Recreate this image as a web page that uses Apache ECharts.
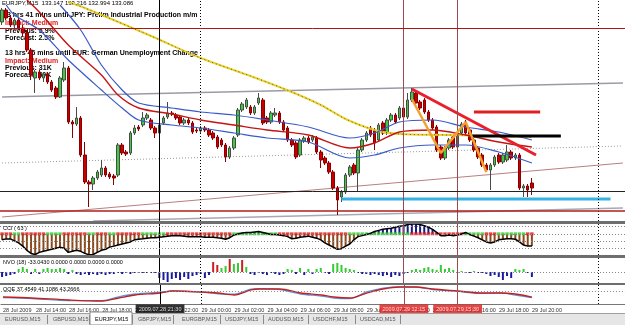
<!DOCTYPE html>
<html><head><meta charset="utf-8">
<script src="https://cdn.jsdelivr.net/npm/echarts/dist/echarts.min.js"></script>
<style>html,body{margin:0;padding:0;background:#fff}#c{width:625px;height:325px}</style>
</head><body><div id="c"></div>
<script>
// ---- price candles (EURJPY M15) ----
const opens=[134.75,134.87,134.79,134.72,134.77,134.69,134.64,134.47,134.19,134.25,
134.19,134.23,134.15,134.09,134.00,134.17,134.29,133.75,133.73,133.79,
133.42,133.15,133.13,133.19,133.22,133.29,133.23,133.21,133.22,133.52,
133.45,133.44,133.64,133.70,133.72,133.79,133.77,133.69,133.64,133.74,
133.80,133.84,133.82,133.80,133.74,133.77,133.74,133.67,133.66,133.69,
133.67,133.64,133.60,133.57,133.52,133.40,133.49,133.62,133.87,133.90,
133.90,133.84,133.94,133.97,133.79,133.75,133.82,133.84,133.75,133.69,
133.57,133.54,133.42,133.56,133.59,133.57,133.59,133.45,133.39,133.34,
133.25,133.09,133.00,133.05,133.22,133.32,133.24,133.47,133.57,133.69,
133.67,133.57,133.74,133.64,133.77,133.82,133.79,133.89,133.80,133.97,
134.04,133.95,133.97,133.85,133.77,133.70,133.50,133.39,133.49,133.60,
133.50,133.64,133.75,133.67,133.57,133.49,133.42,133.32,133.27,133.32,
133.42,133.35,133.37,133.45,133.39,133.42,133.09,133.11,133.14];
const closes=[134.87,134.79,134.72,134.77,134.69,134.64,134.47,134.22,134.25,134.19,
134.23,134.15,134.07,134.00,134.19,134.29,133.75,133.73,133.79,133.42,
133.15,133.13,133.19,133.25,133.29,133.22,133.20,133.19,133.52,133.44,
133.43,133.64,133.69,133.68,133.79,133.82,133.69,133.64,133.72,133.79,
133.84,133.83,133.79,133.74,133.77,133.74,133.65,133.66,133.69,133.67,
133.62,133.59,133.50,133.52,133.40,133.49,133.59,133.87,133.93,133.97,
133.84,133.90,133.99,133.74,133.75,133.84,133.84,133.75,133.67,133.57,
133.52,133.40,133.57,133.59,133.55,133.60,133.45,133.37,133.34,133.25,
133.09,132.97,133.05,133.22,133.30,133.24,133.47,133.57,133.64,133.62,
133.54,133.72,133.64,133.77,133.82,133.75,133.89,133.80,133.97,134.05,
133.94,133.89,133.85,133.77,133.69,133.47,133.39,133.49,133.57,133.50,
133.64,133.73,133.64,133.57,133.47,133.40,133.32,133.27,133.32,133.40,
133.35,133.42,133.45,133.39,133.42,133.09,133.11,133.07,133.09];
const lows=[134.72,134.77,134.70,134.69,134.67,134.61,134.45,134.17,134.04,134.17,
134.15,134.13,134.05,133.98,133.99,134.15,133.73,133.59,133.71,133.40,
133.13,132.90,133.07,133.17,133.20,133.20,133.18,133.12,133.20,133.42,
133.41,133.42,133.62,133.66,133.70,133.77,133.67,133.59,133.62,133.72,
133.78,133.81,133.77,133.72,133.72,133.72,133.63,133.64,133.64,133.65,
133.60,133.57,133.48,133.50,133.35,133.38,133.47,133.60,133.85,133.88,
133.82,133.82,133.92,133.72,133.73,133.73,133.80,133.73,133.65,133.55,
133.50,133.38,133.40,133.54,133.53,133.55,133.43,133.29,133.32,133.23,
133.07,132.82,132.95,133.03,133.20,133.22,133.05,133.45,133.55,133.60,
133.47,133.55,133.62,133.62,133.75,133.73,133.77,133.78,133.78,133.95,
133.92,133.87,133.83,133.75,133.67,133.45,133.37,133.37,133.47,133.48,
133.48,133.62,133.62,133.55,133.45,133.38,133.30,133.25,133.07,133.30,
133.33,133.33,133.35,133.37,133.37,133.07,133.00,133.00,133.02];
const highs=[134.89,134.89,134.82,134.79,134.79,134.72,134.67,134.49,134.27,134.27,
134.25,134.25,134.17,134.11,134.21,134.35,134.31,133.77,133.90,133.81,
133.55,133.17,133.21,133.27,133.37,133.31,133.25,133.23,133.54,133.54,
133.47,133.66,133.72,133.72,133.85,133.84,133.79,133.71,133.74,133.81,
133.95,133.86,133.84,133.82,133.79,133.79,133.76,133.69,133.71,133.71,
133.69,133.66,133.62,133.59,133.54,133.51,133.61,133.89,133.95,133.99,
133.92,133.92,134.04,133.99,133.81,133.86,133.89,133.86,133.77,133.71,
133.59,133.56,133.59,133.61,133.61,133.62,133.61,133.47,133.41,133.36,
133.27,133.11,133.07,133.24,133.32,133.34,133.49,133.59,133.66,133.71,
133.69,133.74,133.76,133.79,133.84,133.84,133.91,133.91,134.04,134.09,
134.06,133.97,133.99,133.87,133.79,133.72,133.52,133.51,133.59,133.62,
133.66,133.75,133.77,133.69,133.59,133.51,133.44,133.34,133.34,133.42,
133.44,133.44,133.52,133.47,133.44,133.44,133.13,133.13,133.19];

// ---- moving averages / envelope, sampled [barIndex, price] ----
const maYellow=[[16,134.95],[20,134.89],[36,134.61],[48,134.39],[60,134.21],[70,134.05],[77,133.92],[83,133.78],[90,133.67],[96,133.63],[108,133.62],[128,133.60]];
const maRed=[[6,134.97],[9,134.85],[16,134.52],[24,134.22],[28,134.02],[33,133.89],[41,133.83],[48,133.77],[56,133.72],[64,133.67],[74,133.62],[84,133.49],[90,133.54],[96,133.65],[104,133.67],[112,133.62],[120,133.55],[128,133.50]];
const bandUpper=[[14,134.92],[19,134.67],[24,134.32],[29,134.07],[33,133.94],[41,133.89],[48,133.85],[56,133.82],[64,133.77],[74,133.70],[84,133.59],[90,133.64],[96,133.75],[104,133.77],[112,133.70],[120,133.65],[128,133.57]];
const bandLower=[[1,134.92],[3,134.82],[9,134.67],[16,134.37],[24,134.07],[29,133.89],[33,133.77],[41,133.72],[48,133.69],[56,133.64],[64,133.59],[74,133.55],[84,133.39],[90,133.42],[96,133.49],[104,133.52],[112,133.52],[120,133.45],[128,133.34]];

// ---- drawn objects ----
const levelRedTop=134.69, levelBlack=133.06, levelRedLow=132.86;
const grayLine=[[0,134.00],[150,134.14]];
const grayDotted=[[0,133.34],[150,133.51]];
const pinkLine=[[0,132.80],[150,133.34]];
const grayLow=[[22,132.76],[150,132.89]];
const trendRed=[[99,134.08],[129,133.42]];
const zigzag=[[99,133.98],[106,133.44],[112,133.75],[117,133.25]];
const redShort=[[114,133.85],[130,133.85]];
const blackThick=[[113,133.61],[135,133.61]];
const cyanLine=[[82,132.98],[147,132.98]];
const vBlack=38, vRed=[97,110], daySep=[48,144];
const vLabels=['2009.07.28 21:30','2009.07.29 12:15','2009.07.29 15:30'];

// ---- indicators ----
const cci=[-83,-70,-70,-97,-126,-170,-228,-271,-286,-257,
-242,-228,-213,-199,-184,-199,-257,-242,-228,-242,
-271,-290,-286,-257,-228,-213,-184,-170,-155,-141,
-126,-112,-83,-75,-68,-60,-54,-54,-46,-39,
-32,-25,-25,-25,-32,-39,-39,-39,-39,-46,
-46,-46,-54,-60,-75,-54,-17,-3,12,19,
19,26,33,19,4,-10,-10,-17,-25,-39,
-68,-60,-46,-39,-32,-46,-60,-83,-126,-155,
-184,-213,-206,-170,-141,-83,-39,-25,-10,4,
33,48,62,70,77,91,106,113,128,135,
135,128,113,91,62,19,-25,-25,-17,-25,
-17,-3,19,-10,-32,-54,-83,-112,-126,-112,
-83,-75,-68,-68,-75,-112,-155,-170,-170];
const cciState=[0,0,0,1,1,0,0,0,0,0,
0,1,1,1,1,0,0,0,0,0,
0,1,1,0,0,0,1,1,0,0,
0,0,0,0,1,1,1,1,1,1,
0,0,0,0,0,0,0,0,0,0,
0,0,0,0,0,0,1,1,1,1,
1,1,1,1,1,1,1,0,0,0,
0,0,0,0,0,0,0,0,0,0,
0,0,0,0,1,1,1,1,1,1,
1,1,1,1,1,1,1,1,1,0,
0,0,0,0,0,0,0,0,0,0,
0,0,1,1,1,1,1,0,0,0,
1,1,1,1,1,1,1,0,0];
const nvo=[-5,-4,-3,-2,3,5,3,-2,3,-2,
3,4,3,3,4,3,-2,2,-2,-3,
-2,-3,-2,-3,-2,-3,-2,-2,-1,-2,
-1,-2,-1,-1,-1,-1,-1,-1,-6,-8,
-10,-7,-6,-8,-5,-7,-4,-3,-2,-6,
-3,10,7,4,6,13,8,9,12,5,
-2,-3,-1,-2,-3,-1,-2,-3,-2,3,
2,-2,4,-3,3,-2,3,4,-1,-2,
8,9,7,4,3,2,-1,-2,-2,-3,
-2,-3,-4,-3,-5,-3,-4,-2,-1,2,
3,2,4,5,3,2,7,3,4,2,
-1,1,-1,-1,1,-1,-1,-2,-4,-3,
-5,-8,-4,-6,3,2,3,-1,-5];
const nvoRedBars=[51,52,55,58];
const qqeSlow=[[0,38.6],[7,36.7],[16,32.8],[24,30.8],[28,36.7],[32,42.5],[38,46.4],[41,50.3],[48,48.4],[52,46.4],[56,42.5],[60,52.3],[62,54.2],[67,54.2],[72,46.4],[77,42.5],[80,38.6],[84,36.7],[88,46.4],[92,54.2],[96,58.1],[100,58.1],[104,54.2],[110,50.3],[116,46.4],[120,46.4],[124,44.5],[128,38.6]];
const qqeFast=[[0,37.5],[7,35.5],[16,31.5],[24,31.5],[28,39.0],[32,44.5],[38,48.0],[41,50.5],[48,48.0],[52,45.0],[56,44.0],[60,54.0],[62,55.0],[67,53.0],[72,44.5],[77,40.5],[80,36.5],[84,35.5],[88,48.5],[92,56.0],[96,58.5],[100,58.0],[104,53.0],[110,49.5],[116,45.5],[120,46.5],[124,42.5],[128,37.5]];

const tickLabels=['28 Jul 2009','28 Jul 14:00','28 Jul 16:00','28 Jul 18:00','28 Jul 20:00','28 Jul 22:00','29 Jul 00:00','29 Jul 02:00','29 Jul 04:00','29 Jul 06:00','29 Jul 08:00','29 Jul 10:00','29 Jul 12:00','29 Jul 14:00','29 Jul 16:00','29 Jul 18:00','29 Jul 20:00'];
const tabs=['EURUSD,M15','GBPUSD,M15','EURJPY,M15','GBPJPY,M15','EURGBP,M15','USDJPY,M15','AUDUSD,M15','USDCHF,M15','USDCAD,M15'];
const news=['13 hrs 41 mins until JPY: Prelim Industrial Production m/m','Impact: Medium','Previous: 5.9%','Forecast: 2.5%','13 hrs 46 mins until EUR: German Unemployment Change','Impact: Medium','Previous: 31K','Forecast: 50K'];
const header='EURJPY,M15  133.147 133.216 132.994 133.086';

const N=151;
const categories=Array.from({length:N},(_,i)=>String(i));
const FONT='"Liberation Sans", Arial, sans-serif';

function vlines(){
  return [
    {xAxis:vBlack,lineStyle:{color:'#000',width:1,type:'solid'}},
    {xAxis:vRed[0],lineStyle:{color:'#9a4a4a',width:1,type:'solid'}},
    {xAxis:vRed[1],lineStyle:{color:'#9a4a4a',width:1,type:'solid'}},
    {xAxis:daySep[0],lineStyle:{color:'#000',width:1,type:[1,2]}},
    {xAxis:daySep[1],lineStyle:{color:'#000',width:1,type:[1,2]}}
  ];
}
function ml(extra){
  return {silent:true,symbol:['none','none'],label:{show:false},animation:false,data:vlines().concat(extra||[])};
}
function xa(g,show){
  return {type:'category',gridIndex:g,data:categories,boundaryGap:true,
    axisLine:{show:show,lineStyle:{color:'#777'}},axisTick:{show:false},splitLine:{show:false},
    axisLabel:show?{show:true,interval:(i)=>i%8===0&&i/8<tickLabels.length,formatter:(v,i)=>tickLabels[i/8]||'',
      align:'left',fontSize:5.5,color:'#333',margin:3,fontFamily:FONT}:{show:false}};
}
function ya(g,min,max){
  return {type:'value',gridIndex:g,min:min,max:max,show:false,splitLine:{show:false}};
}
function ln(data,color,width,extra){
  return Object.assign({type:'line',xAxisIndex:0,yAxisIndex:0,data:data,showSymbol:false,silent:true,
    lineStyle:{color:color,width:width},z:3},extra||{});
}

const graphics=[];
graphics.push({type:'text',left:2,top:0,z:1,style:{text:header,font:'6px '+FONT,fill:'#000'}});
const newsTop=[12,20,27.5,34.5,50,57.5,64.5,72];
news.forEach((t,i)=>{
  graphics.push({type:'text',left:i===0?3:5,top:newsTop[i],z:1,
    style:{text:t,font:'bold 7px '+FONT,fill:(t.indexOf('Impact')===0)?'#dd2222':'#000'}});
});
// pane separators
[[221,3],[255,3],[283,2]].forEach(s=>graphics.push({type:'rect',shape:{x:0,y:s[0],width:625,height:s[1]},style:{fill:'#6e6e6e'},z:50}));
graphics.push({type:'text',left:3,top:225.5,z:51,style:{text:'CCI ( 63 )',font:'5.5px '+FONT,fill:'#000'}});
graphics.push({type:'text',left:3,top:259,z:51,style:{text:'NVO (18) -33.0430 0.0000 0.0000 0.0000 0.0000',font:'5.5px '+FONT,fill:'#000'}});
graphics.push({type:'text',left:3,top:286.5,z:51,style:{text:'QQE 37.4549 41.1086 43.2666',font:'5.5px '+FONT,fill:'#000'}});
// tab bar
graphics.push({type:'rect',shape:{x:0,y:313,width:625,height:12},style:{fill:'#e6e6e6'},z:40});
graphics.push({type:'line',shape:{x1:0,y1:313.5,x2:625,y2:313.5},style:{stroke:'#a0a0a0',lineWidth:1},z:41});
const tabX=[5,53,95,138,182,225,268,313,360];
const sepX=[47,89,132,173,220,263,308,355,400];
graphics.push({type:'rect',shape:{x:90,y:312,width:42,height:13},style:{fill:'#fff',stroke:'#888',lineWidth:1},z:42});
sepX.forEach(x=>graphics.push({type:'line',shape:{x1:x+0.5,y1:315,x2:x+0.5,y2:324},style:{stroke:'#8a8a8a',lineWidth:1},z:41}));
tabs.forEach((t,i)=>graphics.push({type:'text',left:tabX[i],top:316,z:43,style:{text:t,font:'5.5px '+FONT,fill:i===2?'#000':'#555'}}));

const option={
  animation:false,
  backgroundColor:'#fff',
  grid:[
    {left:0,right:0,top:0,height:221},
    {left:0,right:0,top:224,height:31},
    {left:0,right:0,top:258,height:25},
    {left:0,right:0,top:285,height:19}
  ],
  xAxis:[xa(0,false),xa(1,false),xa(2,false),xa(3,true)],
  yAxis:[ya(0,132.76,134.97),ya(1,-293,136),ya(2,-11,14),ya(3,25,62)],
  graphic:graphics,
  series:[
    {type:'candlestick',xAxisIndex:0,yAxisIndex:0,z:2,silent:true,
     data:opens.map((o,i)=>[o,closes[i],lows[i],highs[i]]),barWidth:3,
     itemStyle:{color:'#3ccc3c',color0:'#c40000',borderColor:'#4a4a4a',borderColor0:'#8a0000',borderWidth:1},
     markLine:ml([
       {yAxis:levelRedTop,lineStyle:{color:'#a81818',width:1,type:'solid'}},
       {yAxis:levelBlack,lineStyle:{color:'#222',width:1,type:'solid'}},
       {yAxis:levelRedLow,lineStyle:{color:'#b01c1c',width:1.5,type:'solid'}}
     ])},
    ln(grayLine,'#9a9aa6',1.5,{z:1}),
    ln(grayDotted,'#999',1,{z:1,lineStyle:{color:'#999',width:1,type:[1,2]}}),
    ln(pinkLine,'#b88080',1.2,{z:1}),
    ln(grayLow,'#a8a8b0',1.5,{z:1}),
    ln(maYellow,'#ead22a',2,{smooth:0.3}),
    ln(maYellow,'#7a6a20',1,{smooth:0.3,lineStyle:{color:'#6a5a20',width:1,type:[1,3]}}),
    ln(bandUpper,'#3a5ac8',1.2,{smooth:0.3}),
    ln(maRed,'#c41414',1.4,{smooth:0.3}),
    ln(bandLower,'#3a5ac8',1.2,{smooth:0.3}),
    ln(cyanLine,'#33b4e4',3,{z:4}),
    ln(trendRed,'#e8202c',3,{z:4}),
    ln(redShort,'#e02020',3,{z:4}),
    ln(blackThick,'#000',3,{z:4}),
    ln(zigzag,'#f2a030',2.5,{z:5}),
    // CCI pane
    {type:'bar',xAxisIndex:1,yAxisIndex:1,silent:true,barWidth:2,z:2,
     data:cci.map(v=>({value:v,itemStyle:{color:v<0?'#8b4a1e':'#1a1a88'}})),
     markLine:ml([100,0,-100,-200].map(v=>({yAxis:v,lineStyle:{color:'#888',width:1,type:[1,2]}})))},
    {type:'line',xAxisIndex:1,yAxisIndex:1,data:cci,showSymbol:false,silent:true,lineStyle:{color:'#000',width:1.5},z:4},
    {type:'scatter',xAxisIndex:1,yAxisIndex:1,silent:true,symbol:'rect',symbolSize:[3.5,3],z:3,
     data:cciState.map((s,i)=>({value:[i,0],itemStyle:{color:s?'#33cc33':'#dd1a1a'}}))},
    // NVO pane
    {type:'bar',xAxisIndex:2,yAxisIndex:2,silent:true,barWidth:2,z:2,
     data:nvo.map((v,i)=>({value:v,itemStyle:{color:v<0?'#1a1aa0':(nvoRedBars.indexOf(i)>=0?'#cc2020':'#33cc33')}})),
     markLine:ml([{yAxis:0,lineStyle:{color:'#888',width:1,type:[1,2]}}])},
    // QQE pane
    {type:'line',xAxisIndex:3,yAxisIndex:3,data:qqeFast,showSymbol:false,silent:true,smooth:0.3,lineStyle:{color:'#5a9ae0',width:1.3},z:3,
     markLine:ml([{yAxis:50,lineStyle:{color:'#888',width:1,type:[1,2]}}])},
    {type:'line',xAxisIndex:3,yAxisIndex:3,data:qqeSlow,showSymbol:false,silent:true,smooth:0.3,lineStyle:{color:'#c42020',width:1.3},z:3},
    {type:'scatter',xAxisIndex:3,yAxisIndex:3,silent:true,symbolSize:0,z:10,clip:false,
     data:[vBlack,vRed[0],vRed[1]].map((x,i)=>({value:[x,25],label:{show:true,position:'bottom',distance:0.5,
       formatter:vLabels[i],color:'#fff',fontSize:5.5,fontFamily:FONT,padding:[1.5,3,1,3],
       backgroundColor:i===0?'#000':'#e01818'}}))}
  ]
};
const chart=echarts.init(document.getElementById('c'),null,{renderer:'canvas'});
chart.setOption(option);
</script></body></html>
